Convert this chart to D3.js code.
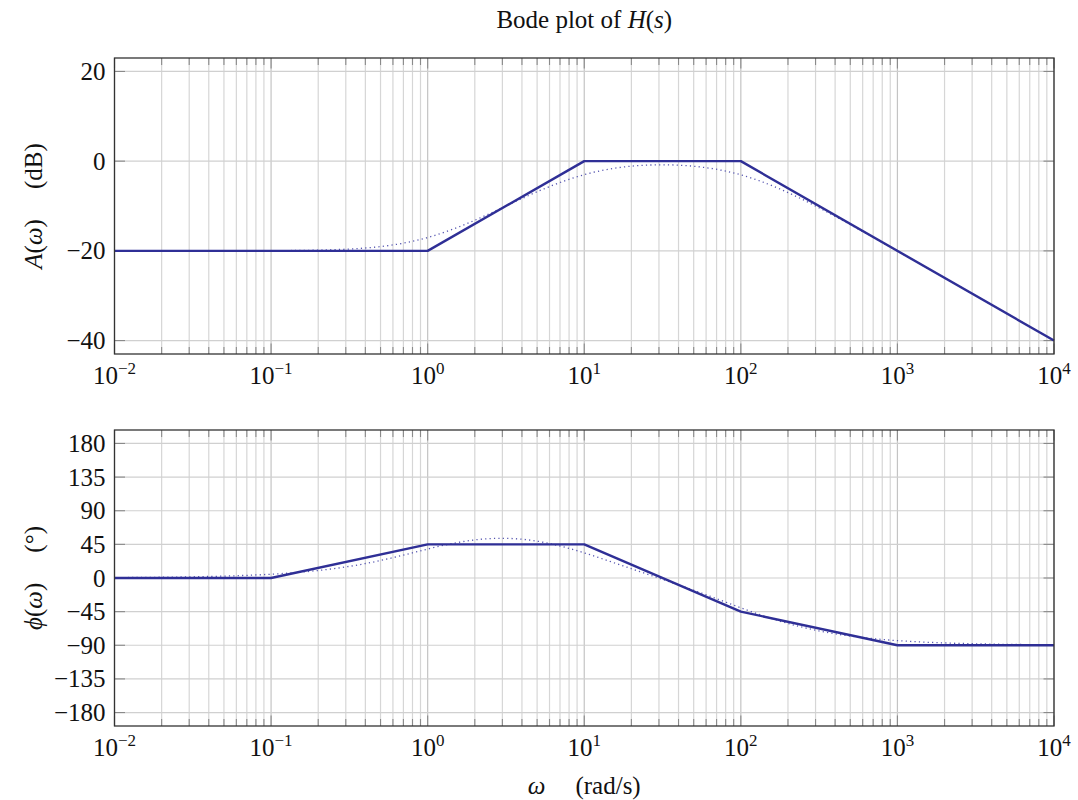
<!DOCTYPE html>
<html><head><meta charset="utf-8">
<script src="https://cdn.jsdelivr.net/npm/d3@7"></script>
<style>
body{margin:0;background:#fff;}
svg{display:block;}
text{font-family:"Liberation Serif","Times New Roman",serif;fill:#111;}
</style></head>
<body>
<svg id="c" width="1078" height="800"></svg>
<script>
// ---- data ----
const xDecades = [-2, -1, 0, 1, 2, 3, 4];           // tick exponents for omega
const magTicks = [-40, -20, 0, 20];
const phaseTicks = [-180, -135, -90, -45, 0, 45, 90, 135, 180];
// asymptotic (straight-line) approximation
const asymW = [0.01, 1, 10, 100, 10000];
const asymMag = [-20, -20, 0, 0, -40];
const asymPhW = [0.01, 0.1, 1, 10, 100, 1000, 10000];
const asymPh = [0, 0, 45, 45, -45, -90, -90];
// exact response (dotted), read at quarter decades
const exactW = [0.01, 0.01778, 0.03162, 0.05623, 0.1, 0.1778, 0.3162, 0.5623, 1, 1.778, 3.162, 5.623, 10,
  17.78, 31.62, 56.23, 100, 177.8, 316.2, 562.3, 1000, 1778, 3162, 5623, 10000];
const exactMag = [-20.0, -20.0, -20.0, -19.99, -19.96, -19.87, -19.59, -18.82, -17.03, -13.94, -10.0, -6.07, -3.01,
  -1.31, -0.82, -1.33, -3.05, -6.21, -10.42, -15.14, -20.04, -25.01, -30.0, -35.0, -40.0];
const exactPh = [0.51, 0.91, 1.61, 2.86, 5.08, 8.96, 15.56, 25.81, 38.72, 49.55, 53.09, 47.35, 33.58,
  16.05, -1.81, -20.29, -39.86, -57.75, -70.82, -79.0, -83.78, -86.49, -88.03, -88.89, -89.38];

// ---- layout ----
const svg = d3.select("#c");
const L = 114.5, R = 1054;
const FS = "25px", SUP = "17px";
const lineColor = "#2f2f96";
const x = d3.scaleLog().domain([1e-2, 1e4]).range([L, R]);
const minorW = [];
for (let d = -2; d < 4; d++) for (let k = 2; k <= 9; k++) minorW.push(k * Math.pow(10, d));
const majorW = xDecades.map(e => Math.pow(10, e));

svg.append("text").attr("x", (L + R) / 2).attr("y", 28).attr("text-anchor", "middle")
  .style("font-size", FS)
  .call(t => { t.append("tspan").text("Bode plot of "); t.append("tspan").style("font-style", "italic").text("H");
               t.append("tspan").text("("); t.append("tspan").style("font-style", "italic").text("s"); t.append("tspan").text(")"); });

function panel(top, bottom, ydom, yticks, series, ylabelFn, labelBaseline) {
  const y = d3.scaleLinear().domain(ydom).range([bottom, top]);
  const g = svg.append("g");
  // grid
  g.selectAll(".mg").data(minorW).join("line")
    .attr("x1", d => x(d)).attr("x2", d => x(d)).attr("y1", top).attr("y2", bottom)
    .attr("stroke", "#d6d6d6").attr("stroke-width", 1.2);
  g.selectAll(".Mg").data(majorW).join("line")
    .attr("x1", d => x(d)).attr("x2", d => x(d)).attr("y1", top).attr("y2", bottom)
    .attr("stroke", "#c4c4c4").attr("stroke-width", 1.2);
  g.selectAll(".yg").data(yticks).join("line")
    .attr("x1", L).attr("x2", R).attr("y1", d => y(d)).attr("y2", d => y(d))
    .attr("stroke", "#d0d0d0").attr("stroke-width", 1.2);
  // ticks (inside)
  const tk = "#8a8a8a";
  [top, bottom].forEach(yy => {
    const dir = yy === top ? 1 : -1;
    g.selectAll(null).data(minorW).join("line")
      .attr("x1", d => x(d)).attr("x2", d => x(d)).attr("y1", yy).attr("y2", yy + dir * 7)
      .attr("stroke", tk).attr("stroke-width", 1.1);
    g.selectAll(null).data(majorW).join("line")
      .attr("x1", d => x(d)).attr("x2", d => x(d)).attr("y1", yy).attr("y2", yy + dir * 10.5)
      .attr("stroke", tk).attr("stroke-width", 1.1);
  });
  [L, R].forEach(xx => {
    const dir = xx === L ? 1 : -1;
    g.selectAll(null).data(yticks).join("line")
      .attr("x1", xx).attr("x2", xx + dir * 10.5).attr("y1", d => y(d)).attr("y2", d => y(d))
      .attr("stroke", tk).attr("stroke-width", 1.1);
  });
  // series
  series.forEach(s => {
    const line = d3.line().x(d => x(d[0])).y(d => y(d[1])).curve(s.curve);
    g.append("path").datum(d3.zip(s.w, s.v)).attr("d", line).attr("fill", "none")
      .attr("stroke", s.color).attr("stroke-width", s.width)
      .attr("stroke-dasharray", s.dash || null).attr("stroke-linecap", s.cap || "butt")
      .attr("stroke-linejoin", "round");
  });
  // frame
  g.append("rect").attr("x", L).attr("y", top).attr("width", R - L).attr("height", bottom - top)
    .attr("fill", "none").attr("stroke", "#333").attr("stroke-width", 1.3);
  // y tick labels
  g.selectAll(".yl").data(yticks).join("text")
    .attr("x", L - 9).attr("y", d => y(d) + 8.5).attr("text-anchor", "end")
    .style("font-size", FS).text(d => d < 0 ? "\u2212" + Math.abs(d) : String(d));
  // x tick labels
  const xl = g.selectAll(".xl").data(xDecades).join("text")
    .attr("x", d => x(Math.pow(10, d))).attr("y", labelBaseline).attr("text-anchor", "middle")
    .style("font-size", FS);
  xl.append("tspan").text("10");
  xl.append("tspan").attr("dy", -10).style("font-size", SUP).text(d => d < 0 ? "\u2212" + Math.abs(d) : String(d));
  // y label
  const yl = g.append("text").attr("transform", `translate(42,${(top + bottom) / 2}) rotate(-90)`)
    .attr("text-anchor", "middle").style("font-size", FS);
  ylabelFn(yl);
  return y;
}

panel(58, 354, [-43, 23], magTicks, [
  { w: exactW, v: exactMag, color: "#5555b0", width: 1.3, dash: "1.2,3.2", curve: d3.curveNatural },
  { w: asymW, v: asymMag, color: lineColor, width: 2.4, curve: d3.curveLinear }
], t => {
  t.append("tspan").style("font-style", "italic").text("A");
  t.append("tspan").text("(");
  t.append("tspan").style("font-style", "italic").text("\u03c9");
  t.append("tspan").text(")\u2003\u2009(dB)");
}, 384);

panel(430, 726, [-198, 198], phaseTicks, [
  { w: exactW, v: exactPh, color: "#5555b0", width: 1.3, dash: "1.2,3.2", curve: d3.curveNatural },
  { w: asymPhW, v: asymPh, color: lineColor, width: 2.4, curve: d3.curveLinear }
], t => {
  t.append("tspan").style("font-style", "italic").text("\u03d5");
  t.append("tspan").text("(");
  t.append("tspan").style("font-style", "italic").text("\u03c9");
  t.append("tspan").text(")\u2003\u2009(\u00b0)");
}, 756);

svg.append("text").attr("x", (L + R) / 2).attr("y", 794).attr("text-anchor", "middle")
  .style("font-size", FS)
  .call(t => { t.append("tspan").style("font-style", "italic").text("\u03c9");
               t.append("tspan").text("\u2003\u2009(rad/s)"); });
</script>
</body></html>
